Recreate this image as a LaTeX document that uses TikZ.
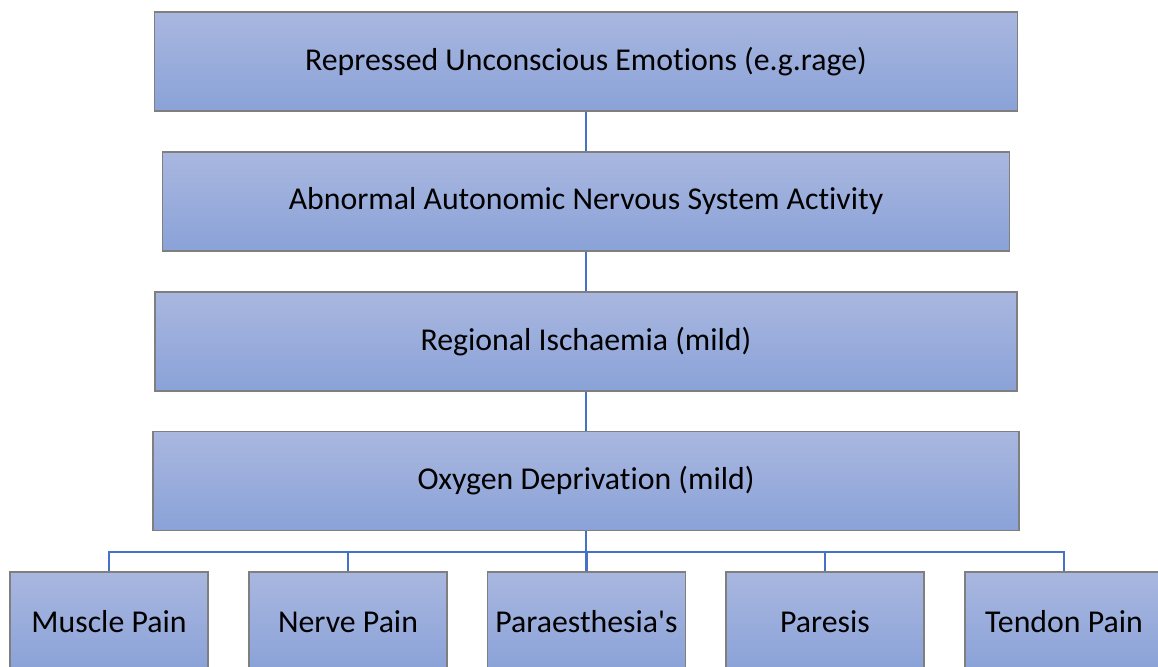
\documentclass[tikz,border=0pt]{standalone}
\usepackage{fontspec}
\setmainfont{Carlito}[Ligatures={CommonOff,TeXOff}]
\usepackage{tikz}

\definecolor{boxtop}{HTML}{A9B7DF}
\definecolor{boxbot}{HTML}{8AA2D8}
\definecolor{boxline}{HTML}{7F7F7F}
\definecolor{linkblue}{HTML}{4472C4}

\begin{document}
\begin{tikzpicture}[x=1pt,y=-1pt,
    box/.style={rectangle,draw=boxline,line width=1.2pt,top color=boxtop,bottom color=boxbot,
                inner sep=0pt,minimum height=99pt,font=\fontsize{31.8}{38}\selectfont},
    link/.style={draw=linkblue,line width=2.8pt}]

    \clip (0,0) rectangle (1158,666);
    \fill[white] (0,0) rectangle (1158,666);

    \node[box,minimum width=863pt] (cause)  at (586, 61.5)  {Repressed Unconscious Emotions (e.g.rage)};
    \node[box,minimum width=847pt] (ans)    at (586, 201.5) {Abnormal Autonomic Nervous System Activity};
    \node[box,minimum width=862pt] (isch)   at (586, 341.5) {Regional Ischaemia (mild)};
    \node[box,minimum width=866pt] (oxygen) at (586, 481)   {Oxygen Deprivation (mild)};

    \node[box,minimum width=198pt] (muscle) at (109, 621.5)  {Muscle Pain};
    \node[box,minimum width=198pt] (nerve)  at (348, 621.5)  {Nerve Pain};
    \node[box,minimum width=198pt] (para)   at (586.5, 621.5) {Paraesthesia's};
    \node[box,minimum width=198pt] (paresis) at (825, 621.5) {Paresis};
    \node[box,minimum width=198pt] (tendon) at (1064, 621.5) {Tendon Pain};

    \coordinate (bus) at (586, 552);

    \draw[link] (cause) -- (ans);
    \draw[link] (ans) -- (isch);
    \draw[link] (isch) -- (oxygen);
    \draw[link] (oxygen.south) -- (bus);
    \draw[link] (muscle.north) |- (bus) -| (tendon.north);
    \foreach \n in {nerve,para,paresis}
        \draw[link] (\n.north) -- (\n.north |- bus);
\end{tikzpicture}
\end{document}
